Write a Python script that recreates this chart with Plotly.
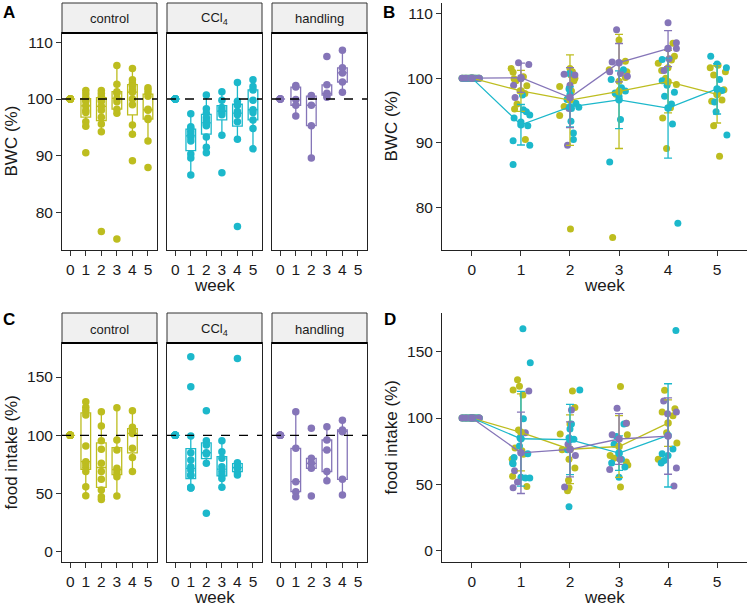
import numpy as np
import plotly.graph_objects as go

# ---------------- data ----------------
weeks = [0, 1, 2, 3, 4, 5]
groups = ["control", "CCl4", "handling"]
strip_labels = ["control", "CCl<sub>4</sub>", "handling"]
colors = {"control": "#BDBD1F", "CCl4": "#1CB8CB", "handling": "#8575B8"}

# body weight change (%) per week (index = week)
bwc_control = [
    [100, 100, 100, 100, 100, 100, 100, 100, 100, 100],
    [101.5, 100.9, 100.2, 99.9, 99.6, 98.8, 98.0, 97.6, 96.0, 95.2, 90.5],
    [101.5, 101.0, 100.5, 100.0, 99.6, 98.7, 98.0, 96.8, 95.6, 94.2, 76.6],
    [105.9, 102.6, 101.3, 101.0, 100.1, 99.5, 98.2, 97.5, 75.3],
    [105.4, 103.4, 102.8, 102.3, 101.6, 101.2, 100.0, 99.0, 95.4, 93.8, 89.1],
    [102.0, 101.6, 101.0, 100.5, 98.2, 98.0, 96.6, 96.4, 92.6, 87.9],
]
bwc_ccl4 = [
    [100, 100, 100, 100, 100, 100, 100, 100, 100, 100],
    [97.4, 95.1, 94.8, 94.3, 93.8, 93.2, 92.6, 90.3, 89.6, 86.6],
    [100.7, 98.3, 97.5, 96.7, 96.1, 95.5, 95.3, 93.3, 91.5, 90.5],
    [101.3, 99.8, 98.5, 98.0, 97.7, 97.2, 93.6, 87.0],
    [102.9, 99.6, 98.9, 97.8, 97.2, 96.0, 92.9, 77.5],
    [103.4, 102.2, 101.6, 99.8, 98.1, 97.6, 96.3, 94.8, 91.2],
]
bwc_handling = [
    [100, 100, 100, 100, 100],
    [102.4, 102.1, 99.9, 98.9, 97.0],
    [100.6, 100.5, 98.9, 95.3, 89.6],
    [107.5, 102.5, 101.0, 100.7, 100.3],
    [108.6, 105.5, 104.6, 103.0, 101.2],
    [],
]
# horizontal jitter (weeks)
bwc_control_jit = [
    [-0.2, -0.16, -0.12, -0.08, -0.04, 0.0, 0.04, 0.08, 0.12, 0.15],
    [-0.2, -0.16, 0.05, -0.14, -0.1, 0.12, -0.02, 0.08, -0.08, -0.13, 0.09],
    [0.0, 0.05, 0.02, 0.1, 0.08, -0.21, 0.03, -0.05, -0.12, -0.21, 0.01],
    [0.0, 0.13, -0.2, 0.16, 0.13, 0.0, 0.02, -0.06, -0.13],
    [0.1, 0.13, 0.07, -0.2, 0.0, -0.13, -0.05, 0.17, 0.05, -0.11, -0.03],
    [0.02, -0.14, 0.17, -0.07, 0.14, 0.06, 0.1, -0.11, -0.07, 0.05],
]
bwc_ccl4_jit = [
    [-0.2, -0.16, -0.12, -0.08, -0.04, 0.0, 0.04, 0.08, 0.12, 0.15],
    [0.03, 0.05, 0.11, 0.18, -0.14, 0.0, 0.14, -0.16, 0.18, -0.16],
    [-0.01, -0.02, 0.0, -0.06, 0.12, 0.18, 0.03, 0.02, 0.07, 0.07],
    [0.09, -0.16, 0.05, 0.13, -0.08, 0.0, 0.03, -0.19],
    [-0.12, -0.12, -0.02, 0.13, -0.07, 0.07, 0.09, 0.2],
    [-0.13, 0.0, 0.19, 0.05, 0.1, 0.0, -0.05, -0.02, 0.2],
]
bwc_handling_jit = [
    [-0.2, -0.12, -0.04, 0.05, 0.15],
    [-0.05, 0.16, 0.0, -0.15, -0.12],
    [-0.12, 0.1, 0.0, -0.02, -0.05],
    [-0.05, -0.14, -0.19, 0.03, 0.17],
    [0.0, 0.17, 0.17, 0.02, -0.08],
    [],
]

# food intake (%) per week
food_control = [
    [100, 100, 100, 100, 100, 100, 100, 100, 100, 100],
    [128.9, 124.0, 121.1, 117.4, 90.9, 77.4, 75.4, 72.6, 68.9, 56.0, 48.3],
    [120.3, 108.0, 95.4, 88.0, 76.0, 68.9, 62.3, 53.1, 47.4, 45.1],
    [123.7, 96.0, 87.4, 71.7, 69.7, 66.9, 64.6, 48.0],
    [121.0, 106.9, 104.6, 101.7, 88.9, 81.1, 68.9],
    [],
]
food_ccl4 = [
    [100, 100, 100, 100, 100, 100, 100, 100, 100, 100],
    [167.4, 141.7, 99.4, 85.1, 78.9, 73.1, 70.3, 66.0, 65.5, 55.4, 54.8, 54.8],
    [121.1, 95.4, 91.7, 85.1, 84.0, 76.0, 33.1],
    [95.4, 86.0, 80.3, 73.1, 68.9, 66.0, 63.1, 55.4],
    [166.0, 76.6, 73.1, 71.7, 68.0, 66.0],
    [],
]
food_handling = [
    [100, 100, 100, 100, 100],
    [120.3, 88.9, 60.3, 51.7, 47.4],
    [106.0, 80.3, 76.0, 71.7, 48.0],
    [107.4, 96.0, 87.4, 68.9, 61.1],
    [112.9, 104.6, 103.2, 62.3, 48.8],
    [],
]
food_control_jit = [
    [-0.2, -0.16, -0.12, -0.08, -0.04, 0.0, 0.04, 0.08, 0.12, 0.15],
    [-0.07, -0.03, -0.16, 0.04, -0.05, -0.12, 0.02, 0.05, -0.18, -0.17, 0.12],
    [0.05, 0.1, 0.0, -0.2, -0.16, -0.02, 0.1, -0.03, -0.02, -0.05],
    [0.03, 0.15, 0.17, -0.18, -0.1, 0.15, 0.18, 0.03],
    [-0.07, 0.14, -0.12, 0.1, -0.03, 0.18, -0.2],
    [],
]
food_ccl4_jit = [
    [-0.2, -0.16, -0.12, -0.08, -0.04, 0.0, 0.04, 0.08, 0.12, 0.15],
    [0.04, 0.19, 0.05, -0.02, -0.03, 0.14, -0.14, -0.17, -0.16, 0.0, 0.09, 0.18],
    [0.2, 0.03, 0.0, -0.02, 0.08, -0.05, -0.02],
    [0.1, -0.05, -0.1, 0.0, 0.05, -0.15, 0.12, 0.0],
    [0.16, 0.1, -0.12, 0.0, -0.08, -0.14],
    [],
]
food_handling_jit = [
    [-0.2, -0.12, -0.04, 0.05, 0.15],
    [0.16, 0.09, -0.13, -0.07, -0.16],
    [0.03, -0.04, 0.0, 0.11, -0.11],
    [-0.04, 0.15, -0.14, 0.02, -0.19],
    [-0.09, 0.17, -0.01, 0.17, 0.12],
    [],
]

bwc_ticks = [80, 90, 100, 110]
food_ticks = [0, 50, 100, 150]

bwc = {"control": bwc_control, "CCl4": bwc_ccl4, "handling": bwc_handling}
bwc_jit = {"control": bwc_control_jit, "CCl4": bwc_ccl4_jit, "handling": bwc_handling_jit}
food = {"control": food_control, "CCl4": food_ccl4, "handling": food_handling}
food_jit = {"control": food_control_jit, "CCl4": food_ccl4_jit, "handling": food_handling_jit}

# ---------------- layout geometry ----------------
W, H = 749, 606
FONT = "Liberation Sans, Arial, sans-serif"
TXT = "#1a1a1a"


def fx(p):
    return p / W


def fy(p):
    return 1 - p / H


facet_x = [(62, 157), (167, 262), (272, 367)]
right_x = (442, 747)
A_y, A_strip = (33, 250), (3, 33)
B_y = (3, 250)
C_y, C_strip = (343, 562), (313, 343)
D_y = (313, 562)

BWC_RANGE = [73.35, 111.65]
FOOD_RANGE = [-8.6, 179.2]
FACET_XR = [-0.53, 5.58]
RIGHT_XR = [-0.61, 5.61]


def box_stats(vals):
    v = np.sort(np.asarray(vals, dtype=float))
    q1, med, q3 = np.percentile(v, [25, 50, 75])
    iqr = q3 - q1
    lo = v[v >= q1 - 1.5 * iqr].min()
    hi = v[v <= q3 + 1.5 * iqr].max()
    return q1, med, q3, lo, hi


fig = go.Figure()
layout = dict(
    width=W, height=H, margin=dict(l=0, r=0, t=0, b=0),
    paper_bgcolor="white", plot_bgcolor="white", showlegend=False,
    font=dict(family=FONT, color=TXT),
)
shapes, annotations = [], []


def axis_common():
    return dict(showgrid=False, zeroline=False, ticks="outside", ticklen=5,
                tickwidth=1, tickcolor="#333", linecolor="#222", linewidth=1,
                showline=True, tickfont=dict(size=15.5, family=FONT, color=TXT))


def add_facets(first_idx, data, yrange, ydom, strip, ticks, ytitle):
    for k, g in enumerate(groups):
        i = first_idx + k
        xa = "xaxis" if i == 1 else f"xaxis{i}"
        ya = "yaxis" if i == 1 else f"yaxis{i}"
        xr = "x" if i == 1 else f"x{i}"
        yr = "y" if i == 1 else f"y{i}"
        x0, x1 = facet_x[k]
        ax = axis_common()
        ax.update(domain=[fx(x0), fx(x1)], range=FACET_XR, tickvals=weeks,
                  mirror=True, anchor=yr)
        ay = axis_common()
        ay.update(domain=[fy(ydom[1]), fy(ydom[0])], range=yrange, tickvals=ticks,
                  mirror=True, anchor=xr)
        if k > 0:
            ay.update(showticklabels=False, ticks="")
        layout[xa] = ax
        layout[ya] = ay
        col = colors[g]
        wk, q1s, meds, q3s, los, his = [], [], [], [], [], []
        for w in weeks:
            vals = data[g][w]
            if len(vals) == 0:
                continue
            q1, med, q3, lo, hi = box_stats(vals)
            wk.append(w); q1s.append(q1); meds.append(med); q3s.append(q3)
            los.append(lo); his.append(hi)
        fig.add_trace(go.Box(x=wk, q1=q1s, median=meds, q3=q3s, lowerfence=los,
                             upperfence=his, width=0.62, whiskerwidth=0,
                             boxpoints=False, line=dict(color=col, width=1.3),
                             fillcolor="rgba(255,255,255,0)", xaxis=xr, yaxis=yr,
                             hoverinfo="skip"))
        px_, py_ = [], []
        for w in weeks:
            for v in data[g][w]:
                px_.append(w); py_.append(v)
        fig.add_trace(go.Scatter(x=px_, y=py_, mode="markers",
                                 marker=dict(color=col, size=7.5, line=dict(width=0)),
                                 xaxis=xr, yaxis=yr, hoverinfo="skip"))
        # dashed reference line
        shapes.append(dict(type="line", xref=f"{xr} domain", x0=0, x1=1, yref=yr,
                           y0=100, y1=100, line=dict(color="black", width=1.3, dash="dash"),
                           layer="above"))
        # strip
        shapes.append(dict(type="rect", xref="paper", yref="paper",
                           x0=fx(x0), x1=fx(x1), y0=fy(strip[1]), y1=fy(strip[0]),
                           fillcolor="#F0F0F0", line=dict(color="#333", width=1)))
        shapes.append(dict(type="line", xref="paper", yref="paper",
                           x0=fx(x0), x1=fx(x1), y0=fy(strip[1]), y1=fy(strip[1]),
                           line=dict(color="black", width=2)))
        annotations.append(dict(text=strip_labels[k], xref="paper", yref="paper",
                                x=fx((x0 + x1) / 2), y=fy((strip[0] + strip[1]) / 2 + 1),
                                showarrow=False, font=dict(size=13, color=TXT),
                                xanchor="center", yanchor="middle"))
    # axis titles
    annotations.append(dict(text="week", xref="paper", yref="paper",
                            x=fx((facet_x[0][0] + facet_x[2][1]) / 2),
                            y=fy(ydom[1] + 35), showarrow=False,
                            font=dict(size=17, color=TXT), xanchor="center", yanchor="middle"))
    annotations.append(dict(text=ytitle, xref="paper", yref="paper", x=fx(11),
                            y=fy((ydom[0] + ydom[1]) / 2), textangle=-90, showarrow=False,
                            font=dict(size=17, color=TXT), xanchor="center", yanchor="middle"))


def add_right(i, data, jit, yrange, ydom, ticks, ytitle):
    xa, ya = f"xaxis{i}", f"yaxis{i}"
    xr, yr = f"x{i}", f"y{i}"
    ax = axis_common()
    ax.update(domain=[fx(right_x[0]), fx(right_x[1])], range=RIGHT_XR, tickvals=weeks,
              anchor=yr)
    ay = axis_common()
    ay.update(domain=[fy(ydom[1]), fy(ydom[0])], range=yrange, tickvals=ticks, anchor=xr)
    layout[xa] = ax
    layout[ya] = ay
    for g in groups:
        xs, ys = [], []
        for w in weeks:
            for v, j in zip(data[g][w], jit[g][w]):
                xs.append(w + j); ys.append(v)
        fig.add_trace(go.Scatter(x=xs, y=ys, mode="markers",
                                 marker=dict(color=colors[g], size=7, line=dict(width=0)),
                                 xaxis=xr, yaxis=yr, hoverinfo="skip"))
    for g in groups:
        mw, mm, sd = [], [], []
        for w in weeks:
            vals = data[g][w]
            if len(vals) == 0:
                continue
            mw.append(w); mm.append(float(np.mean(vals)))
            sd.append(float(np.std(vals, ddof=1)) if len(vals) > 1 else 0.0)
        fig.add_trace(go.Scatter(x=mw, y=mm, mode="lines+markers",
                                 line=dict(color=colors[g], width=1.3),
                                 marker=dict(color=colors[g], size=7.5),
                                 error_y=dict(type="data", array=sd, visible=True,
                                              color=colors[g], thickness=1.3, width=4),
                                 xaxis=xr, yaxis=yr, hoverinfo="skip"))
    annotations.append(dict(text="week", xref="paper", yref="paper",
                            x=fx((right_x[0] + right_x[1]) / 2 + 10), y=fy(ydom[1] + 35),
                            showarrow=False, font=dict(size=17, color=TXT),
                            xanchor="center", yanchor="middle"))
    annotations.append(dict(text=ytitle, xref="paper", yref="paper", x=fx(391),
                            y=fy((ydom[0] + ydom[1]) / 2), textangle=-90, showarrow=False,
                            font=dict(size=17, color=TXT), xanchor="center", yanchor="middle"))


add_facets(1, bwc, BWC_RANGE, A_y, A_strip, bwc_ticks, "BWC (%)")
add_right(4, bwc, bwc_jit, BWC_RANGE, B_y, bwc_ticks, "BWC (%)")
add_facets(5, food, FOOD_RANGE, C_y, C_strip, food_ticks, "food intake (%)")
add_right(8, food, food_jit, FOOD_RANGE, D_y, food_ticks, "food intake (%)")

for lab, (x, y) in {"A": (9, 13), "B": (389, 13), "C": (9, 319), "D": (390, 319)}.items():
    annotations.append(dict(text=f"<b>{lab}</b>", xref="paper", yref="paper", x=fx(x), y=fy(y),
                            showarrow=False, font=dict(size=17, color="black"),
                            xanchor="center", yanchor="middle"))

layout["shapes"] = shapes
layout["annotations"] = annotations
fig.update_layout(**layout)
fig.write_html("out.html", config={"displayModeBar": False},
               post_script="document.body.style.margin='0';document.body.style.overflow='hidden';")
